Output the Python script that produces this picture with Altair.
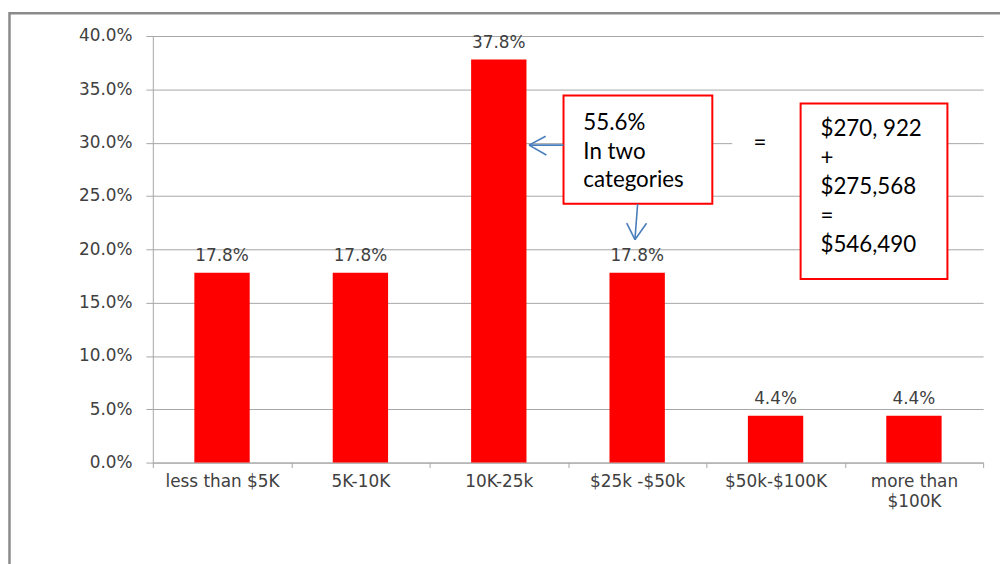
import altair as alt
import pandas as pd

# ---- data ----
categories = ["less than $5K", "5K-10K", "10K-25k", "$25k -$50k", "$50k-$100K", "more than $100K"]
shares = [0.178, 0.178, 0.378, 0.178, 0.044, 0.044]
y_ticks = [0.0, 0.05, 0.10, 0.15, 0.20, 0.25, 0.30, 0.35, 0.40]
note1_lines = ["55.6%", "In two", "categories"]
note2_lines = ["$270, 922", "+", "$275,568", "=", "$546,490"]
equals_text = "="

df = pd.DataFrame({"category": categories, "share": shares})

# ---- styles / layout ----
W, H = 837, 430
RED = "#ff0000"
BLUE = "#4a7ebb"
GRID = "#a6a6a6"
AXIS_FONT = "DejaVu Sans"
AXIS_SIZE = 17
NOTE_FONT = "Lato"
NOTE_SIZE = 22.5
TXT = "#404040"

x_enc = alt.X(
    "category:N", sort=categories, title=None,
    scale=alt.Scale(paddingInner=0, paddingOuter=0),
    axis=alt.Axis(
        labelAngle=0, tickBand="extent", tickSize=5, tickColor=GRID,
        domainColor=GRID, labelFont=AXIS_FONT, labelFontSize=AXIS_SIZE,
        labelColor=TXT, labelPadding=6, labelLineHeight=20, grid=False,
        labelExpr="datum.label == 'more than $100K' ? ['more than', '$100K'] : datum.label",
    ),
)
y_enc = alt.Y(
    "share:Q", title=None,
    scale=alt.Scale(domain=[0, 0.4], nice=False),
    axis=alt.Axis(
        values=y_ticks, format=".1%", grid=True, gridColor=GRID,
        domainColor=GRID, tickColor=GRID, tickSize=7, labelPadding=14,
        labelFont=AXIS_FONT, labelFontSize=AXIS_SIZE, labelColor=TXT,
    ),
)

one = alt.Data(values=[{"k": 0}])

frame = alt.Chart(one).mark_rect(filled=False, stroke="#8a8a8a", strokeWidth=2.5).encode(
    x=alt.value(-144.5), x2=alt.value(1200), y=alt.value(-23), y2=alt.value(800)
)

bars = alt.Chart(df).mark_bar(color=RED, width=alt.RelativeBandSize(0.4)).encode(x=x_enc, y=y_enc)

labels = alt.Chart(df).mark_text(
    baseline="alphabetic", dy=-12, font=AXIS_FONT, fontSize=AXIS_SIZE, color=TXT
).encode(
    x=alt.X("category:N", sort=categories),
    y=alt.Y("share:Q"),
    text=alt.Text("share:Q", format=".1%"),
)


def box(x1, y1, x2, y2, stroke=RED, sw=2):
    m = alt.Chart(one).mark_rect(fill="white", stroke=stroke, strokeWidth=sw) if stroke else \
        alt.Chart(one).mark_rect(fill="white")
    return m.encode(x=alt.value(x1), x2=alt.value(x2), y=alt.value(y1), y2=alt.value(y2))


def seg(x1, y1, x2, y2):
    return alt.Chart(one).mark_rule(color=BLUE, strokeWidth=1.6).encode(
        x=alt.value(x1), x2=alt.value(x2), y=alt.value(y1), y2=alt.value(y2)
    )


def note(lines, x, y, size=NOTE_SIZE):
    return alt.Chart(one).mark_text(
        text=lines, align="left", baseline="alphabetic", font=NOTE_FONT,
        fontSize=size, lineHeight=29.2, color="#000000"
    ).encode(x=alt.value(x), y=alt.value(y))


patch = box(584, 92, 653, 124, stroke=None)
eq = alt.Chart(one).mark_text(
    text=equals_text, align="center", baseline="alphabetic", font=NOTE_FONT,
    fontSize=NOTE_SIZE, color="#000000"
).encode(x=alt.value(612), y=alt.value(115))

box1 = box(414, 60, 564, 169)
text1 = note(note1_lines, 434, 94.3)
arrows = [
    seg(414, 110, 379.3, 110), seg(379.3, 110, 396, 101), seg(379.3, 110, 396.7, 120),
    seg(488.7, 169.3, 486, 205.3), seg(486, 205.3, 477.7, 188.7), seg(486, 205.3, 497.7, 188.7),
]
box2 = box(653, 68, 801, 245)
text2 = note(note2_lines, 673, 101)

chart = alt.layer(
    frame, bars, labels, patch, eq, box1, text1, *arrows, box2, text2
).properties(
    width=W, height=H,
    padding={"left": 146, "top": 26, "right": 17, "bottom": 100},
    autosize=alt.AutoSizeParams(type="none"),
    background="white",
).configure_view(stroke=None)

chart.save("out.html", embed_options={"renderer": "svg", "actions": False})
